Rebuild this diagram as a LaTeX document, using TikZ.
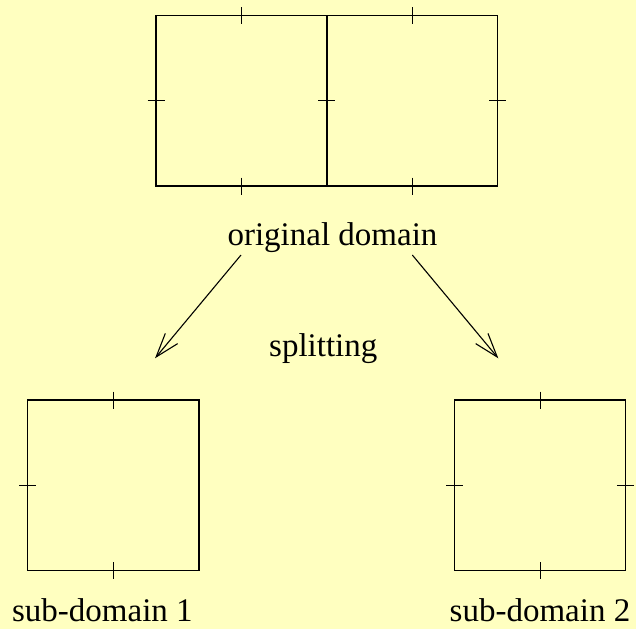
\documentclass[tikz,border=0pt]{standalone}
\usepackage{fontspec}
\setmainfont{Liberation Serif}
\usetikzlibrary{arrows.meta}
\definecolor{paper}{RGB}{255,255,192}
\tikzset{
  edge/.style={line width=1.3pt, black},
  tickh/.style={line width=1.2pt},
  label/.style={font=\fontsize{33}{38}\selectfont, anchor=base, inner sep=0pt},
  split/.style={line width=1.1pt, -{Straight Barb[length=24pt,width=16pt,line width=1.1pt]}}
}
\begin{document}
\begin{tikzpicture}[x=1pt,y=-1pt]
  \fill[paper] (0,0) rectangle (636,629);
  \useasboundingbox (0,0) rectangle (636,629);

  % original domain: two cells side by side
  \draw[edge] (156,15.5) rectangle (497.5,186);
  \draw[edge, line width=1.7pt] (326.7,15.5) -- (326.7,186);
  % horizontal edge ticks
  \foreach \x in {241.7,412.3}{
    \draw[tickh] (\x,7) -- (\x,24);
    \draw[tickh] (\x,177.5) -- (\x,194.5);
  }
  % vertical edge ticks
  \foreach \x in {156,326.7,497.5}{
    \draw[tickh] (\x-8.5,100.7) -- (\x+8.5,100.7);
  }
  \node[label] (orig) at (332.5,245) {original domain};

  % sub-domain 1
  \draw[edge] (27.7,400) rectangle (199,570.7);
  \draw[tickh] (113.7,391.5) -- (113.7,408.5);
  \draw[tickh] (113.7,562.2) -- (113.7,579.2);
  \draw[tickh] (19.2,485.3) -- (36.2,485.3);
  \node[label] (sub1) at (102.4,621.7) {sub-domain 1};

  % sub-domain 2
  \draw[edge] (454.7,400) rectangle (625.3,570.7);
  \draw[tickh] (540.3,391.5) -- (540.3,408.5);
  \draw[tickh] (540.3,562.2) -- (540.3,579.2);
  \draw[tickh] (446.2,485.3) -- (463.2,485.3);
  \draw[tickh] (616.8,485.3) -- (633.8,485.3);
  \node[label] (sub2) at (540,621.7) {sub-domain 2};

  % splitting arrows
  \node[label] (splitlbl) at (323.3,356.7) {splitting};
  \coordinate (la) at (241,255);
  \coordinate (lb) at (155,358.3);
  \coordinate (ra) at (412.3,255);
  \coordinate (rb) at (498.3,358.3);
  \draw[split] (la) -- (lb);
  \draw[split] (ra) -- (rb);
\end{tikzpicture}
\end{document}
